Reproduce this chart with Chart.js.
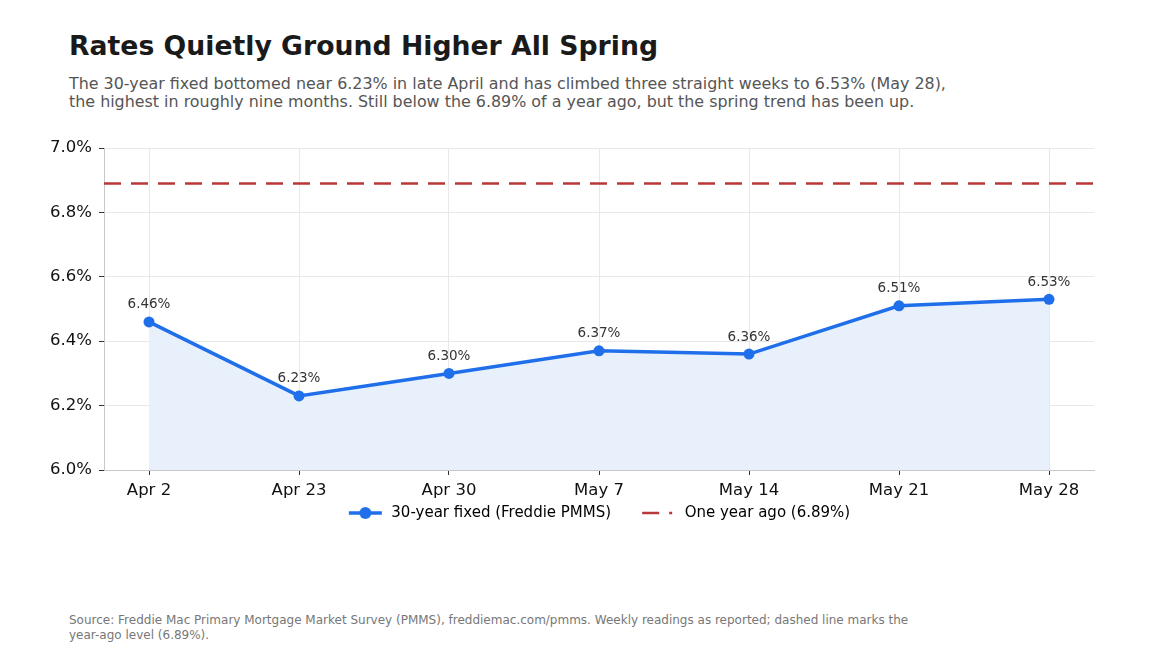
<!DOCTYPE html>
<html>
<head>
<meta charset="utf-8">
<script src="https://cdn.jsdelivr.net/npm/chart.js@4.4.1/dist/chart.umd.min.js"></script>
<style>
  body { margin: 0; background: #fff; font-family: 'DejaVu Sans', sans-serif; }
  #page { position: relative; width: 1152px; height: 672px; overflow: hidden; }
  .title { position: absolute; left: 69px; top: 31px; font-size: 26.7px; line-height: 30px; font-weight: bold; color: #1a1a1a; white-space: nowrap; }
  .subtitle { position: absolute; left: 69px; top: 74.5px; font-size: 15.9px; line-height: 18px; color: #555; white-space: nowrap; }
  .source { position: absolute; left: 69px; top: 613px; font-size: 12px; line-height: 15px; color: #777; white-space: nowrap; }
  #wrap { position: absolute; left: 0; top: 130px; width: 1152px; height: 427px; }
</style>
</head>
<body>
<div id="page">
  <div class="title">Rates Quietly Ground Higher All Spring</div>
  <div class="subtitle">The 30-year fixed bottomed near 6.23% in late April and has climbed three straight weeks to 6.53% (May 28),<br>the highest in roughly nine months. Still below the 6.89% of a year ago, but the spring trend has been up.</div>
  <div id="wrap"><canvas id="rates"></canvas></div>
  <div class="source">Source: Freddie Mac Primary Mortgage Market Survey (PMMS), freddiemac.com/pmms. Weekly readings as reported; dashed line marks the<br>year-ago level (6.89%).</div>
</div>
<script>
// weekly readings
const weeks = ['Apr 2', 'Apr 23', 'Apr 30', 'May 7', 'May 14', 'May 21', 'May 28'];
const rate30 = [6.46, 6.23, 6.30, 6.37, 6.36, 6.51, 6.53];
const yearAgo = 6.89;
const yTicks = [6.0, 6.2, 6.4, 6.6, 6.8, 7.0];

const BLUE = '#1f6feb';
const RED = '#b8383a';

Chart.defaults.font.family = "'DejaVu Sans', sans-serif";

// small legend icons
function blueIcon() {
  let c = document.createElement('canvas');
  c.width = 36; c.height = 16;
  let ctx = c.getContext('2d');
  ctx.strokeStyle = BLUE;
  ctx.lineWidth = 3.5;
  ctx.beginPath(); ctx.moveTo(1, 8); ctx.lineTo(34, 8); ctx.stroke();
  ctx.fillStyle = BLUE;
  ctx.beginPath(); ctx.arc(17.5, 8, 6, 0, Math.PI * 2); ctx.fill();
  return c;
}

function redIcon() {
  let c = document.createElement('canvas');
  c.width = 36; c.height = 16;
  let ctx = c.getContext('2d');
  ctx.strokeStyle = RED;
  ctx.lineWidth = 2.5;
  ctx.setLineDash([17, 10]);
  ctx.beginPath(); ctx.moveTo(1, 8); ctx.lineTo(31, 8); ctx.stroke();
  return c;
}

// value labels above the points
const pointLabels = {
  id: 'pointLabels',
  afterDatasetsDraw(chart) {
    let ctx = chart.ctx;
    let meta = chart.getDatasetMeta(0);
    ctx.save();
    ctx.font = "13.5px 'DejaVu Sans'";
    ctx.fillStyle = '#333';
    ctx.textAlign = 'center';
    ctx.textBaseline = 'middle';
    meta.data.forEach(function (pt, i) {
      ctx.fillText(rate30[i].toFixed(2) + '%', pt.x, pt.y - 17);
    });
    ctx.restore();
  }
};

// pull the legend up close under the x labels (wide label padding pushes it down)
const legendNudge = {
  id: 'legendNudge',
  afterLayout(chart) {
    let lg = chart.legend;
    let shift = lg.top - (chart.chartArea.bottom + 5.5);
    lg.top -= shift;
    lg.bottom -= shift;
  }
};

const icons = [blueIcon(), redIcon()];

new Chart(document.getElementById('rates'), {
  type: 'line',
  data: {
    datasets: [{
      label: '30-year fixed (Freddie PMMS)',
      data: rate30.map((v, i) => ({ x: i, y: v })),
      borderColor: BLUE,
      borderWidth: 3.5,
      backgroundColor: '#e8f0fb',
      fill: 'start',
      tension: 0,
      pointRadius: 5.5,
      pointBackgroundColor: BLUE,
      pointBorderWidth: 0
    }, {
      label: 'One year ago (6.89%)',
      data: [{ x: -0.3, y: yearAgo }, { x: weeks.length - 0.7, y: yearAgo }],
      borderColor: RED,
      borderWidth: 2.5,
      borderDash: [17, 10],
      pointRadius: 0,
      fill: false
    }]
  },
  options: {
    responsive: true,
    maintainAspectRatio: false,
    animation: false,
    layout: { padding: { left: 0, right: 58, top: 18, bottom: 0 } },
    scales: {
      x: {
        type: 'linear',
        min: -0.3,
        max: weeks.length - 0.7,
        afterBuildTicks: function (scale) {
          scale.ticks = weeks.map((w, i) => ({ value: i }));
        },
        afterFit: function (scale) { scale.height = 32; },
        ticks: {
          callback: (v) => weeks[v],
          color: '#111',
          font: { size: 16.5 },
          padding: 6,
          maxRotation: 0
        },
        grid: { color: '#e8e8e8', tickColor: '#333', tickLength: 5 },
        border: { color: '#c8c8c8' }
      },
      y: {
        min: 6.0,
        max: 7.0,
        afterBuildTicks: function (scale) {
          scale.ticks = yTicks.map((v) => ({ value: v }));
        },
        afterFit: function (scale) { scale.width = 104; },
        ticks: {
          callback: (v) => v.toFixed(1) + '%',
          color: '#111',
          font: { size: 16.5 },
          padding: 7
        },
        grid: { color: '#e8e8e8', tickColor: '#333', tickLength: 5 },
        border: { color: '#c8c8c8' }
      }
    },
    plugins: {
      tooltip: { enabled: false },
      legend: {
        position: 'bottom',
        fullSize: false,
        labels: {
          usePointStyle: true,
          pointStyleWidth: 36,
          padding: 30,
          color: '#111',
          font: { size: 15 },
          generateLabels: function (chart) {
            return chart.data.datasets.map((ds, i) => ({
              text: ds.label,
              pointStyle: icons[i],
              fillStyle: ds.borderColor,
              strokeStyle: ds.borderColor,
              lineWidth: 0,
              hidden: false,
              datasetIndex: i
            }));
          }
        }
      }
    }
  },
  plugins: [pointLabels, legendNudge]
});
</script>
</body>
</html>
